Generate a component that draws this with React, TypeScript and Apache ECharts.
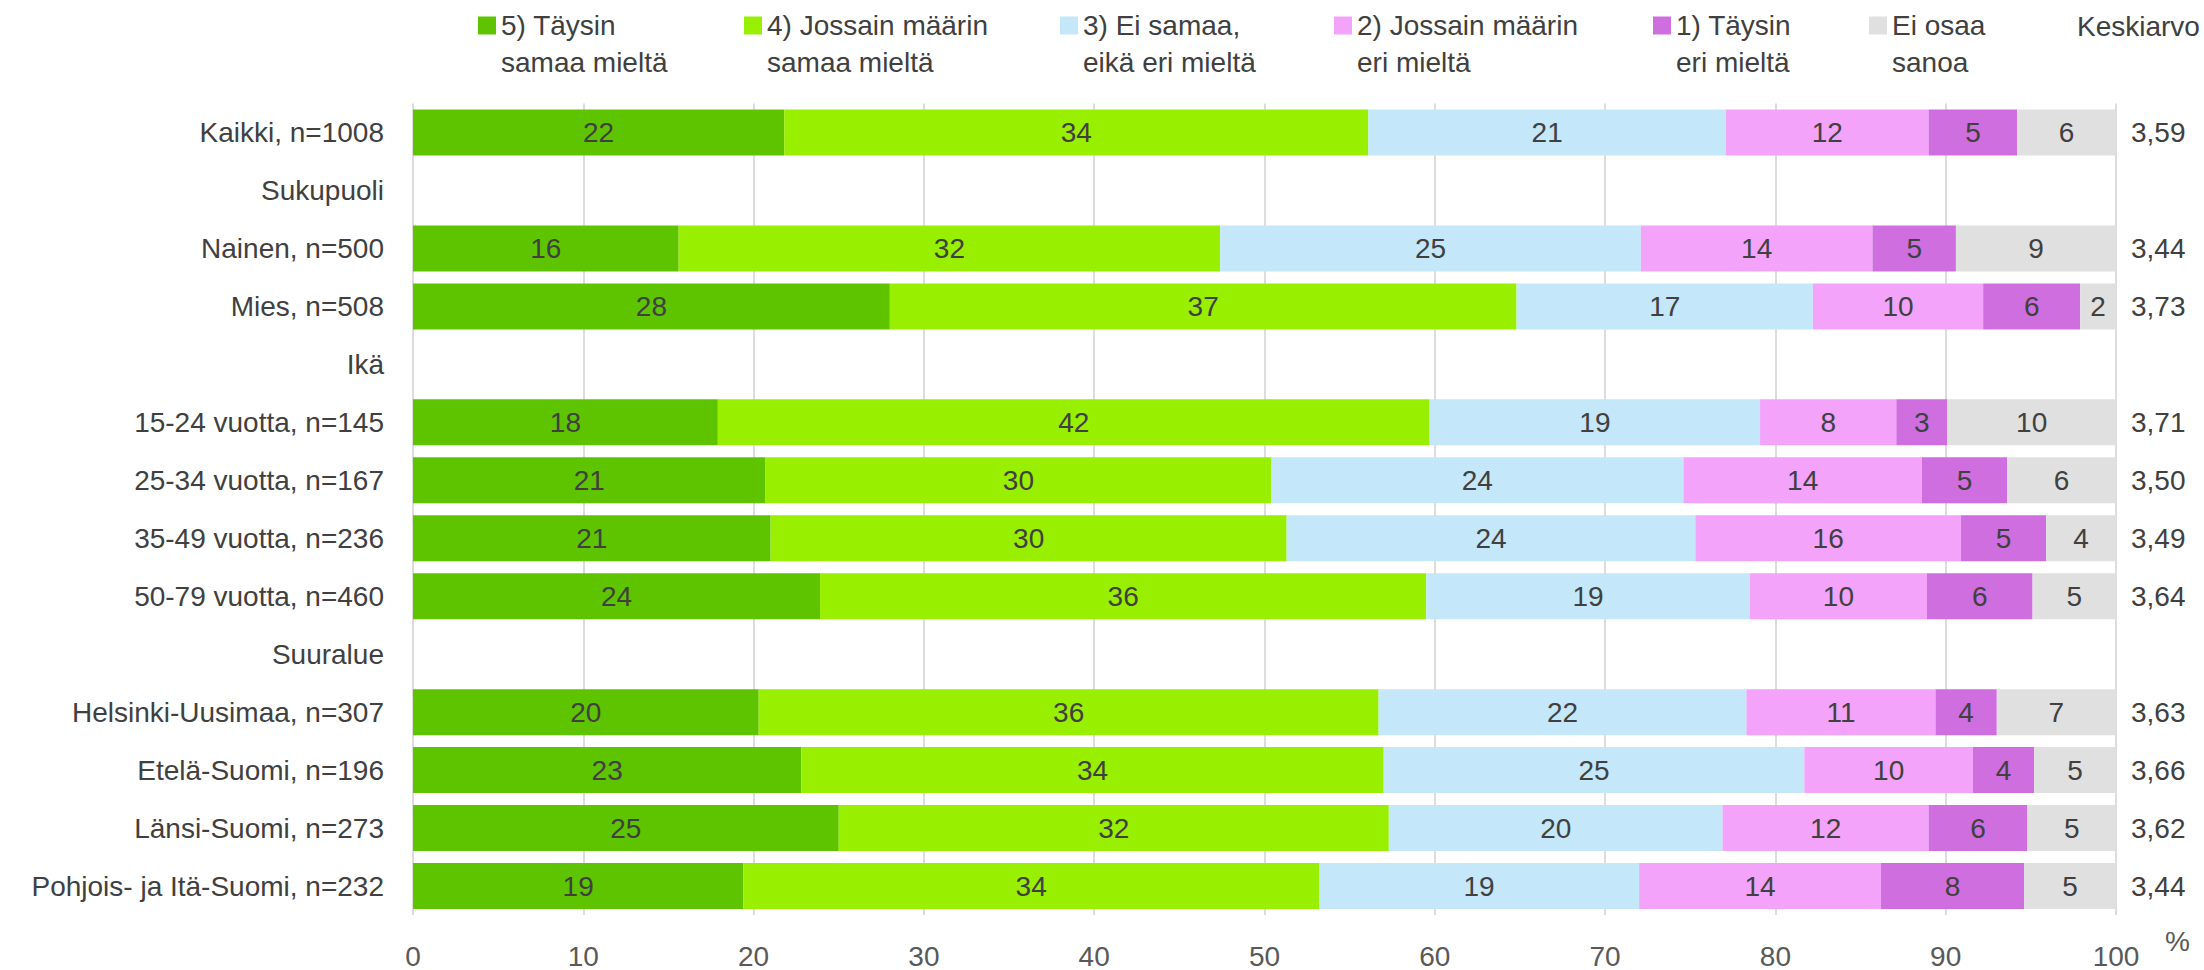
import React, { useEffect, useRef } from "react";
import * as echarts from "echarts";

const categories = [
  "Kaikki, n=1008",
  "Sukupuoli",
  "Nainen, n=500",
  "Mies, n=508",
  "Ikä",
  "15-24 vuotta, n=145",
  "25-34 vuotta, n=167",
  "35-49 vuotta, n=236",
  "50-79 vuotta, n=460",
  "Suuralue",
  "Helsinki-Uusimaa, n=307",
  "Etelä-Suomi, n=196",
  "Länsi-Suomi, n=273",
  "Pohjois- ja Itä-Suomi, n=232",
];

const seriesNames = [
  "5) Täysin samaa mieltä",
  "4) Jossain määrin samaa mieltä",
  "3) Ei samaa, eikä eri mieltä",
  "2) Jossain määrin eri mieltä",
  "1) Täysin eri mieltä",
  "Ei osaa sanoa",
];

const legendLabels = [
  "5) Täysin\nsamaa mieltä",
  "4) Jossain määrin\nsamaa mieltä",
  "3) Ei samaa,\neikä eri mieltä",
  "2) Jossain määrin\neri mieltä",
  "1) Täysin\neri mieltä",
  "Ei osaa\nsanoa",
];

const s5 = [21.8, null, 15.6, 28.0, null, 17.9, 20.7, 21.0, 23.9, null, 20.3, 22.8, 25.0, 19.4];
const s4 = [34.3, null, 31.8, 36.8, null, 41.8, 29.7, 30.3, 35.6, null, 36.4, 34.2, 32.3, 33.8];
const s3 = [21.0, null, 24.7, 17.4, null, 19.4, 24.2, 24.0, 19.0, null, 21.6, 24.7, 19.6, 18.8];
const s2 = [11.9, null, 13.6, 10.0, null, 8.0, 14.0, 15.6, 10.4, null, 11.1, 9.9, 12.1, 14.2];
const s1 = [5.2, null, 4.9, 5.7, null, 3.0, 5.0, 5.0, 6.2, null, 3.6, 3.6, 5.8, 8.4];
const s0 = [5.8, null, 9.4, 2.1, null, 9.9, 6.4, 4.1, 4.9, null, 7.0, 4.8, 5.2, 5.4];

const means = ["3,59", "", "3,44", "3,73", "", "3,71", "3,50", "3,49", "3,64", "", "3,63", "3,66", "3,62", "3,44"];

const xTicks = [0, 10, 20, 30, 40, 50, 60, 70, 80, 90, 100];

const colors = ["#5EC400", "#99EF00", "#C4E7FA", "#F3A3F9", "#CE6EDF", "#E0E0E0"];

const FONT = "Liberation Sans, Arial, sans-serif";
const TEXT = "#404040";

export default function App() {
  const ref = useRef<HTMLDivElement>(null);

  useEffect(() => {
    if (!ref.current) return;
    const chart = echarts.init(ref.current, undefined, { renderer: "svg" });
    const values = [s5, s4, s3, s2, s1, s0];
    const legendX = [478, 744, 1060, 1334, 1653, 1869];

    const option: any = {
      animation: false,
      backgroundColor: "#ffffff",
      textStyle: { fontFamily: FONT },
      grid: { left: 413, right: 88, top: 103.5, height: 812 },
      legend: seriesNames.map((name, i) => ({
        data: [name],
        left: legendX[i],
        top: -30,
        padding: 0,
        itemWidth: 18,
        itemHeight: 18,
        icon: "rect",
        selectedMode: false,
        formatter: () => " \n" + legendLabels[i],
        textStyle: {
          color: TEXT,
          fontSize: 28,
          fontFamily: FONT,
          lineHeight: 37,
        },
      })),
      xAxis: {
        type: "value",
        min: xTicks[0],
        max: xTicks[xTicks.length - 1],
        interval: 10,
        axisLine: { show: false },
        axisTick: { show: false },
        splitLine: { show: true, lineStyle: { color: "#D0D0D0", width: 1.5 } },
        axisLabel: { color: "#595959", fontSize: 28, fontFamily: FONT, margin: 27 },
        name: "%",
        nameLocation: "end",
        nameGap: 49,
        nameTextStyle: {
          color: "#595959",
          fontSize: 28,
          fontFamily: FONT,
          verticalAlign: "top",
          padding: [12, 0, 0, 0],
        },
      },
      yAxis: [
        {
          type: "category",
          data: categories,
          inverse: true,
          axisLine: { show: false },
          axisTick: { show: false },
          axisLabel: { color: TEXT, fontSize: 28, fontFamily: FONT, margin: 29 },
        },
        {
          type: "category",
          data: categories,
          inverse: true,
          position: "right",
          axisLine: { show: false },
          axisTick: { show: false },
          axisLabel: {
            color: TEXT,
            fontSize: 28,
            fontFamily: FONT,
            margin: 15,
            formatter: (_v: string, idx: number) => means[idx],
          },
        },
      ],
      graphic: [
        {
          type: "text",
          left: 2077,
          top: 12,
          style: { text: "Keskiarvo", fill: TEXT, fontSize: 28, fontFamily: FONT },
        },
      ],
      series: seriesNames.map((name, i) => ({
        name,
        type: "bar",
        stack: "total",
        barWidth: 46,
        itemStyle: { color: colors[i] },
        label: {
          show: true,
          position: "inside",
          color: TEXT,
          fontSize: 28,
          fontFamily: FONT,
          formatter: (p: any) => (p.value == null ? "" : String(Math.round(p.value))),
        },
        data: values[i],
      })),
    };

    chart.setOption(option);
    return () => chart.dispose();
  }, []);

  return (
    <div
      ref={ref}
      style={{ position: "fixed", left: 0, top: 0, width: 2204, height: 970, background: "#fff" }}
    />
  );
}
